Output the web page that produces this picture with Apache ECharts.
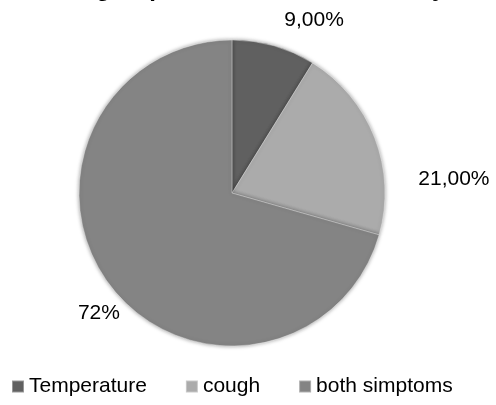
<!DOCTYPE html>
<html>
<head>
<meta charset="utf-8">
<script src="https://cdn.jsdelivr.net/npm/echarts@6/dist/echarts.min.js"></script>
<style>
  html, body { margin: 0; padding: 0; background: #fff; }
  #chart { width: 496px; height: 405px; }
</style>
</head>
<body>
<div id="chart"></div>
<script>
// data
const categories = ['Temperature', 'cough', 'both simptoms'];
const values = [9, 21, 72];
const labelTexts = ['9,00%', '21,00%', '72%'];
const sliceColors = ['#606060', '#ababab', '#848484'];

const chart = echarts.init(document.getElementById('chart'));

// label nudges (dx, dy) relative to default outside placement
const labelNudge = [[0, -6], [20, 49], [31, 16]];

chart.setOption({
    animation: false,
    textStyle: { fontFamily: 'Liberation Sans' },
    title: {
        text: 'Subgroup distribution of the study',
        left: 'center',
        top: -28,
        textStyle: { fontSize: 24, fontWeight: 'bold', color: '#000', fontFamily: 'Liberation Sans' }
    },
    legend: {
        bottom: 3,
        left: 6,
        itemWidth: 12,
        itemHeight: 12,
        itemGap: 38,
        icon: 'rect',
        textStyle: { fontSize: 21, color: '#000' },
        data: categories
    },
    series: [{
        type: 'pie',
        center: [232, 193],
        radius: 153,
        startAngle: 90,
        clockwise: true,
        data: categories.map((name, i) => ({
            name: name,
            value: values[i],
            itemStyle: { color: sliceColors[i] }
        })),
        itemStyle: {
            borderColor: 'rgba(255,255,255,0.35)',
            borderWidth: 1,
            shadowColor: 'rgba(0,0,0,0.4)',
            shadowBlur: 4
        },
        label: {
            show: true,
            position: 'outside',
            fontSize: 21,
            color: '#000',
            formatter: p => labelTexts[p.dataIndex]
        },
        labelLine: { show: false, length: 20, length2: 0 },
        labelLayout: p => ({ dx: labelNudge[p.dataIndex][0], dy: labelNudge[p.dataIndex][1] }),
        emphasis: { disabled: true }
    }]
});
</script>
</body>
</html>
